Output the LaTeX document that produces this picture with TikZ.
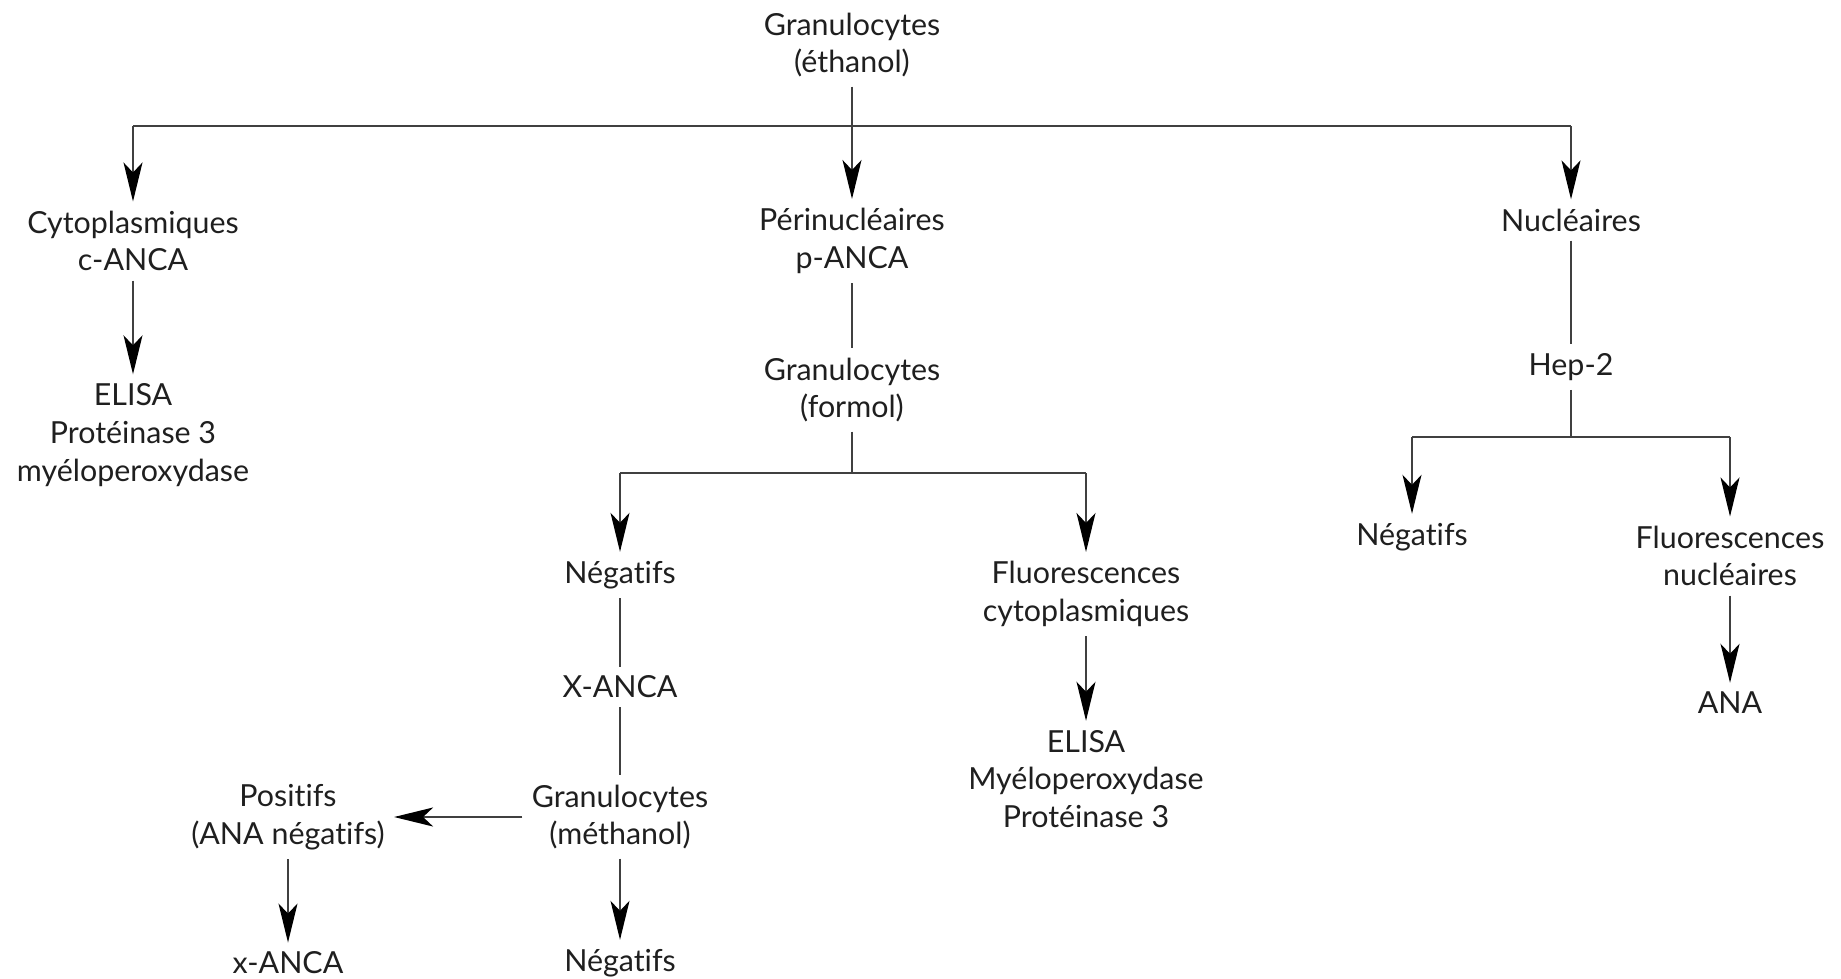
\documentclass[tikz,border=0pt]{standalone}
\usepackage{fontspec}
\setmainfont{Lato}[Ligatures=NoCommon]
\usetikzlibrary{arrows.meta}

\begin{document}
\begin{tikzpicture}[x=0.02cm, y=-0.02cm,
    lbl/.style={align=center, inner sep=0.18cm, font=\fontsize{17.3}{21.5}\selectfont, text=black!88},
    link/.style={line width=0.8pt, draw=black!75},
    bar/.style={line width=1.2pt, draw=black!75},
    arr/.style={link, -{Stealth[length=0.78cm, width=0.38cm, inset=0.2cm, black]}}]
    \useasboundingbox (0,0) rectangle (1841,978);

    % Top: granulocytes fixed in ethanol
    \node[lbl] (eth) at (852,45) {Granulocytes\\(éthanol)};
    \coordinate (j0) at (852,126);

    % First level
    \node[lbl] (cyto) at (133,241) {Cytoplasmiques\\c-ANCA};
    \node[lbl] (per) at (852,241) {Périnucléaires\\p-ANCA};
    \node[lbl] (nuc) at (1571,220) {Nucléaires};

    \draw[link] (eth) -- (j0);
    \draw[bar] (cyto |- j0) -- (nuc |- j0);
    \draw[arr] (j0) -- (per);
    \draw[arr] (cyto |- j0) -- (cyto);
    \draw[arr] (nuc |- j0) -- (nuc);

    % Cytoplasmic branch
    \node[lbl] (elisa1) at (133,435) {ELISA\\Protéinase 3\\myéloperoxydase};
    \draw[arr] (cyto) -- (elisa1);

    % Perinuclear branch: formol
    \node[lbl] (form) at (852,390) {Granulocytes\\(formol)};
    \coordinate (j1) at (852,473);
    \node[lbl] (neg1) at (620,575) {Négatifs};
    \node[lbl] (fluoc) at (1086,594) {Fluorescences\\cytoplasmiques};
    \draw[link] (per) -- (form);
    \draw[link] (form) -- (j1);
    \draw[bar] (neg1 |- j1) -- (fluoc |- j1);
    \draw[arr] (neg1 |- j1) -- (neg1);
    \draw[arr] (fluoc |- j1) -- (fluoc);

    % Negatives: methanol
    \node[lbl] (xanca) at (620,687) {X-ANCA};
    \node[lbl] (meth) at (620,817) {Granulocytes\\(méthanol)};
    \node[lbl] (pos) at (288,817) {Positifs\\(ANA négatifs)};
    \node[lbl] (xanca2) at (288,963) {x-ANCA};
    \node[lbl] (neg2) at (620,963) {Négatifs};
    \draw[link] (neg1) -- (xanca);
    \draw[link] (xanca) -- (meth);
    \draw[arr, line width=1.3pt] (meth) -- (pos);
    \draw[arr] (meth) -- (neg2);
    \draw[arr] (pos) -- (xanca2);

    % Cytoplasmic fluorescence
    \node[lbl] (elisa2) at (1086,779) {ELISA\\Myéloperoxydase\\Protéinase 3};
    \draw[arr] (fluoc) -- (elisa2);

    % Nuclear branch: Hep-2
    \node[lbl] (hep) at (1571,367) {Hep-2};
    \coordinate (j2) at (1571,437);
    \node[lbl] (neg3) at (1412,537) {Négatifs};
    \node[lbl] (fluon) at (1730,556) {Fluorescences\\nucléaires};
    \node[lbl] (ana) at (1730,703) {ANA};
    \draw[link] (nuc) -- (hep);
    \draw[link] (hep) -- (j2);
    \draw[bar] (neg3 |- j2) -- (fluon |- j2);
    \draw[arr] (neg3 |- j2) -- (neg3);
    \draw[arr] (fluon |- j2) -- (fluon);
    \draw[arr] (fluon) -- (ana);
\end{tikzpicture}
\end{document}
